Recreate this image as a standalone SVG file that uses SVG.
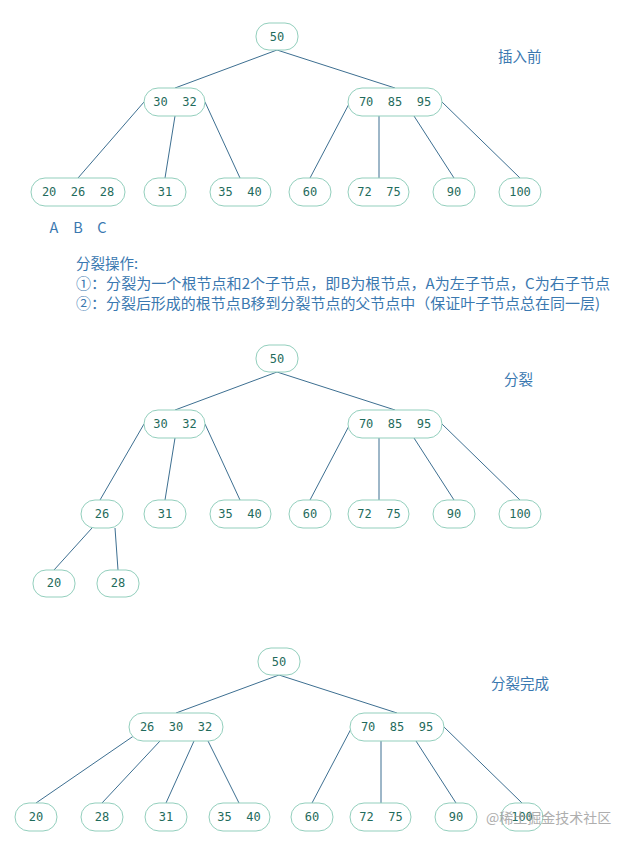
<svg xmlns="http://www.w3.org/2000/svg" width="624" height="846" viewBox="0 0 624 846">
<style>
.n rect{fill:#fff;stroke:#93cfbd;stroke-width:1}
.n text{font-family:"DejaVu Sans Mono","Liberation Mono",monospace;font-size:12px;fill:#1f6b5c;text-anchor:middle;dominant-baseline:central;white-space:pre}
#edges line{stroke:#3d6f91;stroke-width:1}
.lbl{font-family:"Noto Sans CJK SC","Noto Sans",sans-serif;font-size:14.5px;fill:#3a78b0}
</style>
<rect width="624" height="846" fill="#fff"/>
<g id="edges">
<line x1="277" y1="50" x2="175" y2="88"/><line x1="277" y1="50" x2="395" y2="88"/>
<line x1="144" y1="102" x2="78" y2="178"/><line x1="175" y1="116" x2="165" y2="178"/><line x1="205" y1="102" x2="240" y2="178"/>
<line x1="350" y1="102" x2="310" y2="178"/><line x1="379" y1="116" x2="379" y2="178"/><line x1="414" y1="116" x2="454" y2="178"/><line x1="442" y1="102" x2="520" y2="178"/>
<line x1="277" y1="372" x2="175" y2="410"/><line x1="277" y1="372" x2="395" y2="410"/>
<line x1="144" y1="424" x2="100" y2="500"/><line x1="175" y1="438" x2="165" y2="500"/><line x1="205" y1="424" x2="240" y2="500"/>
<line x1="350" y1="424" x2="310" y2="500"/><line x1="379" y1="438" x2="379" y2="500"/><line x1="414" y1="438" x2="454" y2="500"/><line x1="442" y1="424" x2="520" y2="500"/>
<line x1="92" y1="528" x2="54" y2="570"/><line x1="115" y1="528" x2="118" y2="570"/>
<line x1="279" y1="675" x2="176" y2="713"/><line x1="279" y1="675" x2="397" y2="713"/>
<line x1="135" y1="735" x2="36" y2="803"/><line x1="160" y1="741" x2="102" y2="803"/><line x1="194" y1="741" x2="166" y2="803"/><line x1="208" y1="741" x2="239" y2="803"/>
<line x1="352" y1="727" x2="312" y2="803"/><line x1="381" y1="741" x2="381" y2="803"/><line x1="416" y1="741" x2="456" y2="803"/><line x1="444" y1="727" x2="522" y2="803"/>
</g>
<g id="t1-root" class="n"><rect x="256" y="23" width="42" height="27" rx="13"/><text x="277" y="37">50</text></g>
<g id="t1-a" class="n"><rect x="144" y="88" width="61" height="28" rx="14"/><text x="175" y="102" xml:space="preserve">30  32</text></g>
<g id="t1-b" class="n"><rect x="348" y="88" width="94" height="28" rx="14"/><text x="395" y="102" xml:space="preserve">70  85  95</text></g>
<g id="t1-l1" class="n"><rect x="31" y="178" width="94" height="28" rx="14"/><text x="78" y="192" xml:space="preserve">20  26  28</text></g>
<g id="t1-l2" class="n"><rect x="144" y="178" width="42" height="28" rx="14"/><text x="165" y="192">31</text></g>
<g id="t1-l3" class="n"><rect x="210" y="178" width="61" height="28" rx="14"/><text x="240" y="192" xml:space="preserve">35  40</text></g>
<g id="t1-l4" class="n"><rect x="289" y="178" width="42" height="28" rx="14"/><text x="310" y="192">60</text></g>
<g id="t1-l5" class="n"><rect x="348" y="178" width="61" height="28" rx="14"/><text x="379" y="192" xml:space="preserve">72  75</text></g>
<g id="t1-l6" class="n"><rect x="433" y="178" width="42" height="28" rx="14"/><text x="454" y="192">90</text></g>
<g id="t1-l7" class="n"><rect x="499" y="178" width="42" height="28" rx="14"/><text x="520" y="192">100</text></g>
<text class="lbl" x="54" y="233" text-anchor="middle">A</text>
<text class="lbl" x="78" y="233" text-anchor="middle">B</text>
<text class="lbl" x="102" y="233" text-anchor="middle">C</text>
<text class="lbl" x="498" y="62">插入前</text>
<text class="lbl" x="76" y="269">分裂操作:</text>
<text class="lbl" x="76" y="289" textLength="534" lengthAdjust="spacingAndGlyphs">①：分裂为一个根节点和2个子节点，即B为根节点，A为左子节点，C为右子节点</text>
<text class="lbl" x="76" y="309" textLength="524" lengthAdjust="spacingAndGlyphs">②：分裂后形成的根节点B移到分裂节点的父节点中（保证叶子节点总在同一层)</text>

<g id="t2-root" class="n"><rect x="256" y="345" width="42" height="27" rx="13"/><text x="277" y="359">50</text></g>
<g id="t2-a" class="n"><rect x="144" y="410" width="61" height="28" rx="14"/><text x="175" y="424" xml:space="preserve">30  32</text></g>
<g id="t2-b" class="n"><rect x="348" y="410" width="94" height="28" rx="14"/><text x="395" y="424" xml:space="preserve">70  85  95</text></g>
<g id="t2-l1" class="n"><rect x="81" y="500" width="42" height="28" rx="14"/><text x="102" y="514">26</text></g>
<g id="t2-l2" class="n"><rect x="144" y="500" width="42" height="28" rx="14"/><text x="165" y="514">31</text></g>
<g id="t2-l3" class="n"><rect x="210" y="500" width="61" height="28" rx="14"/><text x="240" y="514" xml:space="preserve">35  40</text></g>
<g id="t2-l4" class="n"><rect x="289" y="500" width="42" height="28" rx="14"/><text x="310" y="514">60</text></g>
<g id="t2-l5" class="n"><rect x="348" y="500" width="61" height="28" rx="14"/><text x="379" y="514" xml:space="preserve">72  75</text></g>
<g id="t2-l6" class="n"><rect x="433" y="500" width="42" height="28" rx="14"/><text x="454" y="514">90</text></g>
<g id="t2-l7" class="n"><rect x="499" y="500" width="42" height="28" rx="14"/><text x="520" y="514">100</text></g>
<g id="t2-c1" class="n"><rect x="33" y="570" width="42" height="27" rx="13"/><text x="54" y="583">20</text></g>
<g id="t2-c2" class="n"><rect x="97" y="570" width="42" height="27" rx="13"/><text x="118" y="583">28</text></g>
<text class="lbl" x="504" y="385">分裂</text>

<g id="t3-root" class="n"><rect x="258" y="648" width="42" height="27" rx="13"/><text x="279" y="662">50</text></g>
<g id="t3-a" class="n"><rect x="129" y="713" width="94" height="28" rx="14"/><text x="176" y="727" xml:space="preserve">26  30  32</text></g>
<g id="t3-b" class="n"><rect x="350" y="713" width="94" height="28" rx="14"/><text x="397" y="727" xml:space="preserve">70  85  95</text></g>
<g id="t3-l1" class="n"><rect x="15" y="803" width="42" height="28" rx="14"/><text x="36" y="817">20</text></g>
<g id="t3-l2" class="n"><rect x="81" y="803" width="42" height="28" rx="14"/><text x="102" y="817">28</text></g>
<g id="t3-l3" class="n"><rect x="145" y="803" width="42" height="28" rx="14"/><text x="166" y="817">31</text></g>
<g id="t3-l4" class="n"><rect x="209" y="803" width="61" height="28" rx="14"/><text x="239" y="817" xml:space="preserve">35  40</text></g>
<g id="t3-l5" class="n"><rect x="291" y="803" width="42" height="28" rx="14"/><text x="312" y="817">60</text></g>
<g id="t3-l6" class="n"><rect x="350" y="803" width="61" height="28" rx="14"/><text x="381" y="817" xml:space="preserve">72  75</text></g>
<g id="t3-l7" class="n"><rect x="435" y="803" width="42" height="28" rx="14"/><text x="456" y="817">90</text></g>
<g id="t3-l8" class="n"><rect x="501" y="803" width="42" height="28" rx="14"/><text x="522" y="817">100</text></g>
<text class="lbl" x="491" y="689">分裂完成</text>
<text x="486" y="823" style="font-family:'Noto Sans CJK SC',sans-serif;font-size:14px;fill:#9a9a9a;opacity:0.8">@稀土掘金技术社区</text>
</svg>
